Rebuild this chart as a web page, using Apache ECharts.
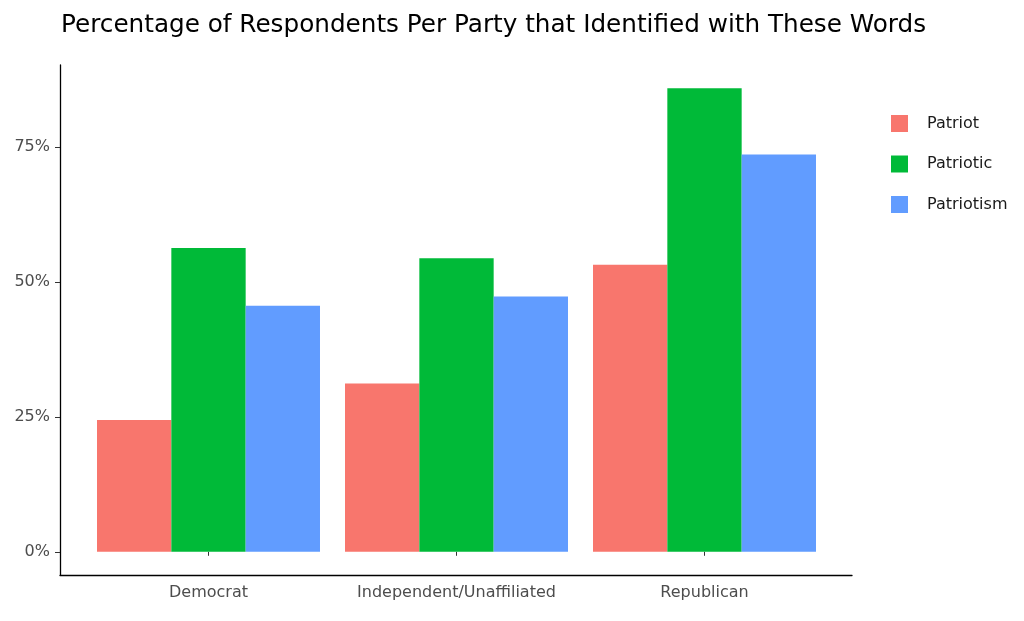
<!DOCTYPE html>
<html>
<head>
<meta charset="utf-8">
<script src="https://cdn.jsdelivr.net/npm/echarts@6/dist/echarts.min.js"></script>
<style>html,body{margin:0;padding:0;background:#fff}#c{width:1024px;height:621px}</style>
</head>
<body>
<div id="c"></div>
<script>
var categories = ['Democrat', 'Independent/Unaffiliated', 'Republican'];
var patriot = [24.4, 31.2, 53.2];
var patriotic = [56.3, 54.4, 85.9];
var patriotism = [45.6, 47.3, 73.6];
var yTicks = [0, 25, 50, 75];
var seriesNames = ['Patriot', 'Patriotic', 'Patriotism'];
var colors = ['#F8766D', '#00BA38', '#619CFF'];

var FONT = 'DejaVu Sans';
var chart = echarts.init(document.getElementById('c'));
var yMin = -4.3, yMax = 90.2;
chart.setOption({
  animation: false,
  title: {
    text: 'Percentage of Respondents Per Party that Identified with These Words',
    left: 56, top: 8,
    textStyle: {fontFamily: FONT, fontSize: 24.7, fontWeight: 'normal', color: '#000'}
  },
  legend: {
    orient: 'vertical', left: 886, top: 110,
    itemWidth: 17, itemHeight: 17, itemGap: 23.5, icon: 'rect',
    data: seriesNames,
    textStyle: {fontFamily: FONT, fontSize: 16, color: '#1a1a1a', padding: [0, 0, 0, 14]}
  },
  grid: [
    {left: 84.5, right: 195.5, top: 65, bottom: 46},
    {left: 60, right: 172, top: 65, bottom: 46}
  ],
  xAxis: [
    {
      type: 'category', gridIndex: 0, data: categories,
      axisLine: {show: false},
      axisTick: {show: true, interval: 0, alignWithLabel: true, length: 4, lineStyle: {color: '#333'}},
      axisLabel: {interval: 0, hideOverlap: false, fontFamily: FONT, fontSize: 16, color: '#4d4d4d', margin: 10}
    },
    {
      type: 'value', gridIndex: 1, min: 0, max: 1,
      axisLine: {show: true, onZero: false, lineStyle: {color: '#000', width: 1.3}},
      axisTick: {show: false}, axisLabel: {show: false}, splitLine: {show: false}
    }
  ],
  yAxis: [
    {type: 'value', gridIndex: 0, min: yMin, max: yMax, show: false, splitLine: {show: false}},
    {
      type: 'value', gridIndex: 1, min: yMin, max: yMax,
      axisLine: {show: true, lineStyle: {color: '#000', width: 1.3}},
      axisTick: {show: true, length: 5, customValues: yTicks, lineStyle: {color: '#333'}},
      axisLabel: {customValues: yTicks, formatter: '{value}%', fontFamily: FONT, fontSize: 16, color: '#4d4d4d', margin: 10},
      splitLine: {show: false}
    }
  ],
  series: [
    {name: seriesNames[0], type: 'bar', xAxisIndex: 0, yAxisIndex: 0, data: patriot, barWidth: 74.33, barGap: '0%', itemStyle: {color: colors[0]}},
    {name: seriesNames[1], type: 'bar', xAxisIndex: 0, yAxisIndex: 0, data: patriotic, barWidth: 74.33, barGap: '0%', itemStyle: {color: colors[1]}},
    {name: seriesNames[2], type: 'bar', xAxisIndex: 0, yAxisIndex: 0, data: patriotism, barWidth: 74.33, barGap: '0%', itemStyle: {color: colors[2]}}
  ]
});
</script>
</body>
</html>
